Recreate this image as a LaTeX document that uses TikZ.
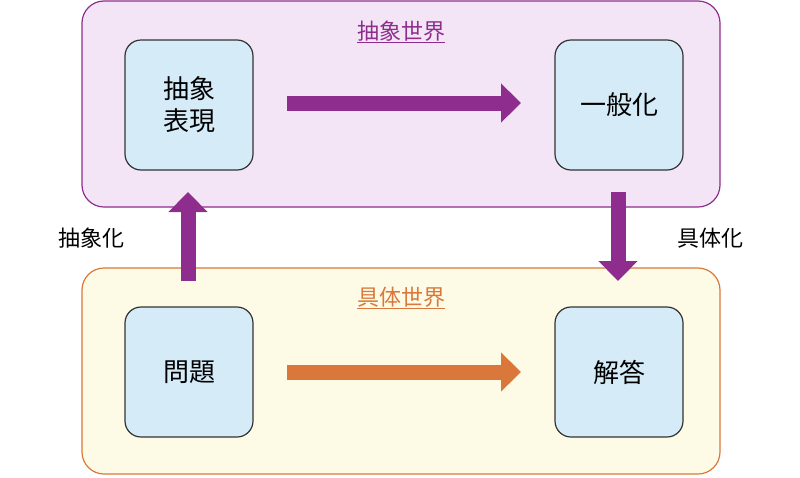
\documentclass[tikz,border=0pt]{standalone}
\usepackage{fontspec}
\setmainfont{Noto Sans CJK JP}
\usetikzlibrary{arrows.meta,positioning}
\definecolor{absline}{HTML}{8E2D8E}
\definecolor{absfill}{HTML}{F3E5F5}
\definecolor{conline}{HTML}{D9783A}
\definecolor{confill}{HTML}{FDFBE5}
\definecolor{boxfill}{HTML}{D5EBF8}
\definecolor{boxline}{HTML}{333333}
\tikzset{
  world/.style={rectangle, rounded corners=22pt, line width=1.2pt, minimum width=638pt, minimum height=206pt},
  stage/.style={rectangle, rounded corners=16pt, draw=boxline, line width=1.2pt, fill=boxfill, minimum width=128pt, minimum height=130pt, font=\fontsize{26}{32}\selectfont, align=center},
  title/.style={font=\fontsize{22}{26}\selectfont},
  fat/.style={line width=15pt, -{Triangle[length=20pt, width=38pt]}},
}
\begin{document}
\begin{tikzpicture}[x=1pt, y=-1pt]
\useasboundingbox (0,0) rectangle (800,477);
\node (abstract) [world, draw=absline, fill=absfill] at (401,104) {};
\node (concrete) [world, draw=conline, fill=confill] at (401,371) {};
\node (abstitle) [title, text=absline] at (401,32) {\underline{抽象世界}};
\node (contitle) [title, text=conline] at (401,298) {\underline{具体世界}};

\node (repr) [stage] at (189,105) {抽象\\表現};
\node (general) [stage] at (619,105) {一般化};
\node (problem) [stage] at (189,372) {問題};
\node (answer) [stage] at (619,372) {解答};

\coordinate (rs) at (287,103);
\coordinate (re) at (521,103);
\coordinate (ps) at (287,372);
\coordinate (pe) at (521,372);
\coordinate (us) at (188,281);
\coordinate (ue) at (188,192);
\coordinate (ds) at (618,192);
\coordinate (de) at (618,281);

\draw [fat, absline] (rs) -- (re);
\draw [fat, conline] (ps) -- (pe);
\draw [fat, absline] (us) -- (ue);
\draw [fat, absline] (ds) -- (de);

\node (abstr) [title] at (91,238) {抽象化};
\node (concr) [title] at (710,238) {具体化};
\end{tikzpicture}
\end{document}
